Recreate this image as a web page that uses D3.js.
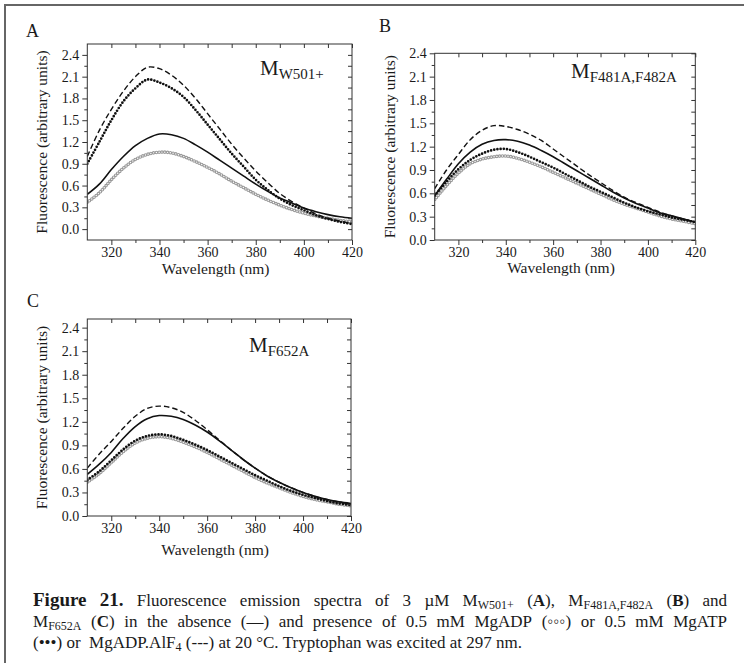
<!DOCTYPE html>
<html>
<head>
<meta charset="utf-8">
<script src="https://cdn.jsdelivr.net/npm/d3@7"></script>
<style>
  body { margin: 0; background: #fff; }
  svg text { font-family: "Liberation Serif", "Times New Roman", serif; fill: #1a1a1a; }
</style>
</head>
<body>
<div id="fig"></div>
<script>
// wavelength grid (nm) shared by all spectra
var wavelength = [310,315,320,325,330,335,340,345,350,355,360,365,370,375,380,385,390,395,400,405,410,415,420];

// panel A : M W501+
var A_apo  = [0.48,0.62,0.82,1.00,1.15,1.25,1.31,1.30,1.25,1.16,1.06,0.95,0.84,0.73,0.62,0.52,0.43,0.36,0.29,0.24,0.20,0.17,0.15];
var A_adp  = [0.37,0.50,0.68,0.84,0.96,1.03,1.06,1.05,1.00,0.93,0.85,0.76,0.66,0.57,0.48,0.40,0.33,0.27,0.22,0.18,0.15,0.12,0.10];
var A_atp  = [0.90,1.20,1.50,1.76,1.94,2.06,2.02,1.94,1.82,1.64,1.44,1.24,1.04,0.86,0.68,0.54,0.42,0.33,0.26,0.19,0.14,0.10,0.07];
var A_alf4 = [1.00,1.36,1.65,1.90,2.10,2.23,2.21,2.12,1.98,1.80,1.59,1.38,1.17,0.98,0.80,0.64,0.49,0.38,0.29,0.21,0.15,0.11,0.08];

// panel B : M F481A,F482A
var B_apo  = [0.57,0.78,0.98,1.13,1.23,1.28,1.29,1.27,1.22,1.15,1.07,0.98,0.89,0.80,0.71,0.62,0.54,0.47,0.41,0.35,0.31,0.27,0.23];
var B_adp  = [0.52,0.70,0.86,0.98,1.04,1.07,1.08,1.05,1.00,0.94,0.87,0.80,0.73,0.66,0.59,0.52,0.46,0.41,0.36,0.31,0.27,0.24,0.21];
var B_atp  = [0.57,0.75,0.91,1.03,1.11,1.16,1.17,1.13,1.07,1.00,0.93,0.85,0.77,0.69,0.62,0.55,0.48,0.42,0.37,0.33,0.29,0.26,0.23];
var B_alf4 = [0.66,0.90,1.10,1.29,1.41,1.47,1.46,1.42,1.36,1.28,1.17,1.06,0.95,0.84,0.74,0.64,0.55,0.48,0.42,0.36,0.31,0.27,0.23];

// panel C : M F652A
var C_apo  = [0.53,0.66,0.81,0.99,1.14,1.24,1.28,1.27,1.23,1.16,1.07,0.96,0.84,0.72,0.61,0.51,0.43,0.36,0.30,0.25,0.21,0.18,0.16];
var C_adp  = [0.43,0.54,0.68,0.82,0.93,0.99,1.01,0.99,0.94,0.88,0.81,0.73,0.65,0.57,0.49,0.42,0.36,0.30,0.25,0.21,0.18,0.15,0.13];
var C_atp  = [0.46,0.57,0.71,0.85,0.96,1.02,1.04,1.02,0.97,0.91,0.84,0.76,0.68,0.60,0.52,0.45,0.38,0.32,0.27,0.23,0.19,0.16,0.14];
var C_alf4 = [0.61,0.79,0.95,1.12,1.27,1.37,1.40,1.38,1.32,1.22,1.10,0.97,0.84,0.72,0.61,0.51,0.43,0.36,0.30,0.25,0.21,0.18,0.15];

var xTicks = [320,340,360,380,400,420];
var xMinor = [330,350,370,390,410];
var yTicks = [0,0.3,0.6,0.9,1.2,1.5,1.8,2.1,2.4];
var yMinor = [0.15,0.45,0.75,1.05,1.35,1.65,1.95,2.25];

var W = 744, H = 663;
var svg = d3.select("#fig").append("svg").attr("width", W).attr("height", H);

// page frame (top and left edges only)
svg.append("path").attr("d", "M5,663 L5,5 L744,5").attr("fill", "none").attr("stroke", "#666").attr("stroke-width", 2);

var panels = [
  {letter:"A", lx:26, ly:37, left:87.3, right:352, top:44, bottom:240, yd:[-0.15,2.55], tOff:34,
   sub:"W501+", mx:260, my:75, series:[A_adp, A_atp, A_apo, A_alf4]},
  {letter:"B", lx:379, ly:32, left:434.7, right:695.3, top:53.3, bottom:240, yd:[0,2.4], tOff:33,
   sub:"F481A,F482A", mx:571, my:78, series:[B_adp, B_atp, B_apo, B_alf4]},
  {letter:"C", lx:27, ly:307, left:87.3, right:351, top:319, bottom:516, yd:[0,2.51], tOff:39,
   sub:"F652A", mx:249, my:352, series:[C_adp, C_atp, C_apo, C_alf4]}
];

function styleAxis(g){
  g.attr("font-family", "Liberation Serif, serif").attr("font-size", 14);
  g.selectAll("line").attr("stroke", "#333");
  g.selectAll("text").attr("fill", "#1a1a1a");
}

panels.forEach(function(p, idx){
  var x = d3.scaleLinear().domain([310,420]).range([p.left, p.right]);
  var y = d3.scaleLinear().domain(p.yd).range([p.bottom, p.top]);
  var g = svg.append("g");

  var clipId = "clip" + idx;
  svg.append("clipPath").attr("id", clipId).append("rect")
    .attr("x", p.left).attr("y", p.top).attr("width", p.right - p.left).attr("height", p.bottom - p.top);

  var line = d3.line()
    .x(function(d, i){ return x(wavelength[i]); })
    .y(function(d){ return y(d); })
    .curve(d3.curveCatmullRom.alpha(0.5));

  var curves = g.append("g").attr("clip-path", "url(#" + clipId + ")");
  // MgADP : open grey circles
  curves.append("path").datum(p.series[0]).attr("d", line).attr("fill", "none")
    .attr("stroke", "#9a9a9a").attr("stroke-width", 3.6).attr("stroke-linecap", "round").attr("stroke-dasharray", "0,2.8");
  curves.append("path").datum(p.series[0]).attr("d", line).attr("fill", "none")
    .attr("stroke", "#fff").attr("stroke-width", 1.4).attr("stroke-linecap", "round").attr("stroke-dasharray", "0,2.8");
  // MgATP : black dots
  curves.append("path").datum(p.series[1]).attr("d", line).attr("fill", "none")
    .attr("stroke", "#111").attr("stroke-width", 2.7).attr("stroke-linecap", "round").attr("stroke-dasharray", "0,3.2");
  // no nucleotide : solid
  curves.append("path").datum(p.series[2]).attr("d", line).attr("fill", "none")
    .attr("stroke", "#111").attr("stroke-width", 1.6);
  // MgADP.AlF4 : dashed
  curves.append("path").datum(p.series[3]).attr("d", line).attr("fill", "none")
    .attr("stroke", "#111").attr("stroke-width", 1.4).attr("stroke-dasharray", "5.5,3");

  // axes
  g.append("g").attr("transform", "translate(0," + p.bottom + ")")
    .call(d3.axisBottom(x).tickValues(xTicks).tickSize(5).tickPadding(2)).call(styleAxis);
  g.append("g").attr("transform", "translate(0," + p.bottom + ")")
    .call(d3.axisBottom(x).tickValues(xMinor).tickSize(3).tickFormat("")).call(styleAxis);
  g.append("g").attr("transform", "translate(0," + p.top + ")")
    .call(d3.axisTop(x).tickValues(xTicks.concat(xMinor)).tickSize(-4).tickFormat("")).call(styleAxis);
  g.append("g").attr("transform", "translate(" + p.left + ",0)")
    .call(d3.axisLeft(y).tickValues(yTicks).tickSize(5).tickPadding(3).tickFormat(d3.format(".1f"))).call(styleAxis);
  g.append("g").attr("transform", "translate(" + p.left + ",0)")
    .call(d3.axisLeft(y).tickValues(yMinor).tickSize(3).tickFormat("")).call(styleAxis);
  g.append("g").attr("transform", "translate(" + p.right + ",0)")
    .call(d3.axisRight(y).tickValues(yTicks.concat(yMinor)).tickSize(-4).tickFormat("")).call(styleAxis);
  g.selectAll(".domain").remove();
  g.append("rect").attr("x", p.left).attr("y", p.top).attr("width", p.right - p.left).attr("height", p.bottom - p.top)
    .attr("fill", "none").attr("stroke", "#333").attr("stroke-width", 1);

  // titles
  g.append("text").attr("x", p.lx).attr("y", p.ly).attr("font-size", 18).text(p.letter);
  g.append("text").attr("transform", "translate(" + (p.left - 40) + "," + ((p.top + p.bottom) / 2) + ") rotate(-90)")
    .attr("text-anchor", "middle").attr("font-size", 15.5).text("Fluorescence (arbitrary units)");
  g.append("text").attr("x", (p.left + p.right) / 2 - 4).attr("y", p.bottom + p.tOff)
    .attr("text-anchor", "middle").attr("font-size", 15.5).text("Wavelength (nm)");
  var m = g.append("text").attr("x", p.mx).attr("y", p.my);
  m.append("tspan").attr("font-size", 21).text("M");
  m.append("tspan").attr("font-size", 15).attr("dy", 4).text(p.sub);
});

// caption, justified like the original
var capSize = 17;
var cap = svg.append("g").attr("font-size", capSize);
function seg(t, o){ o = o || {}; o.t = t; return o; }
var capLines = [
  {y:606, just:true, words:[
    [seg("Figure", {b:1, fs:19})], [seg("21.", {b:1, fs:19})],
    [seg("Fluorescence")], [seg("emission")], [seg("spectra")], [seg("of")], [seg("3")], [seg("\u00b5M")],
    [seg("M"), seg("W501+", {sub:1})], [seg("("), seg("A", {b:1}), seg("),")],
    [seg("M"), seg("F481A,F482A", {sub:1})], [seg("("), seg("B", {b:1}), seg(")")], [seg("and")]
  ]},
  {y:627, just:true, words:[
    [seg("M"), seg("F652A", {sub:1})], [seg("("), seg("C", {b:1}), seg(")")],
    [seg("in")], [seg("the")], [seg("absence")], [seg("(\u2014)")], [seg("and")], [seg("presence")], [seg("of")],
    [seg("0.5")], [seg("mM")], [seg("MgADP")], [seg("(\u25e6\u25e6\u25e6)")], [seg("or")], [seg("0.5")], [seg("mM")], [seg("MgATP")]
  ]},
  {y:648, just:false, words:[
    [seg("(\u2022\u2022\u2022)")], [seg("or")], [seg("")], [seg("MgADP.AlF"), seg("4", {sub:1})], [seg("(---)")],
    [seg("at")], [seg("20")], [seg("\u00b0C.")], [seg("Tryptophan")], [seg("was")], [seg("excited")],
    [seg("at")], [seg("297")], [seg("nm.")]
  ]}
];
var capX0 = 33, capX1 = 727, spaceW = capSize * 0.25;
capLines.forEach(function(L){
  var nodes = L.words.map(function(w){
    var t = cap.append("text").attr("y", L.y);
    var shift = 0;
    w.forEach(function(s){
      var ts = t.append("tspan").text(s.t);
      if (s.b) ts.attr("font-weight", "bold");
      if (s.fs) ts.attr("font-size", s.fs);
      if (s.sub) { ts.attr("font-size", 12).attr("dy", 3 - shift); shift = 3; }
      else if (shift) { ts.attr("dy", -shift); shift = 0; }
    });
    return t;
  });
  var widths = nodes.map(function(t){ return t.node().getComputedTextLength(); });
  var total = d3.sum(widths);
  var gap = L.just ? Math.max(3, (capX1 - capX0 - total) / (nodes.length - 1)) : spaceW;
  var xx = capX0;
  nodes.forEach(function(t, i){
    t.attr("x", xx);
    xx += widths[i] + gap;
  });
});
</script>
</body>
</html>
